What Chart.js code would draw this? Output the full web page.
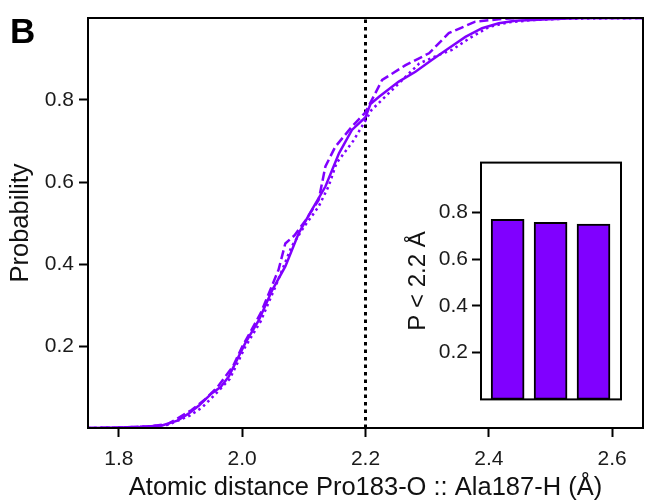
<!DOCTYPE html>
<html>
<head>
<meta charset="utf-8">
<script src="https://cdn.jsdelivr.net/npm/chart.js@4"></script>
<style>
  html, body { margin: 0; padding: 0; background: #fff; }
  #wrap { position: relative; width: 645px; height: 501px; }
  #main { position: absolute; left: 0; top: 0; }
  #inset { position: absolute; left: 400px; top: 146px; }
</style>
</head>
<body>
<div id="wrap">
  <canvas id="main" width="645" height="501"></canvas>
  <canvas id="inset" width="230" height="270"></canvas>
</div>
<script>
// cumulative distributions of the Pro183-O :: Ala187-H distance
const solidX = [1.75, 1.80, 1.84, 1.87, 1.895, 1.913, 1.93, 1.951, 1.965, 1.978, 2.005, 2.027, 2.049, 2.07, 2.092, 2.113, 2.135, 2.157, 2.178, 2.2, 2.208, 2.222, 2.254, 2.281, 2.308, 2.335, 2.362, 2.389, 2.416, 2.443, 2.497, 2.55, 2.65];
const solidY = [0, 0.001, 0.003, 0.006, 0.018, 0.035, 0.055, 0.085, 0.1, 0.125, 0.207, 0.263, 0.337, 0.394, 0.476, 0.532, 0.589, 0.67, 0.727, 0.758, 0.79, 0.808, 0.845, 0.869, 0.898, 0.926, 0.954, 0.975, 0.987, 0.993, 0.997, 1, 1];

const dashX = [1.75, 1.80, 1.85, 1.88, 1.918, 1.94, 1.96, 1.985, 2.0, 2.03, 2.059, 2.07, 2.085, 2.103, 2.124, 2.135, 2.151, 2.178, 2.2, 2.227, 2.265, 2.303, 2.335, 2.378, 2.416, 2.45, 2.65];
const dashY = [0, 0.001, 0.004, 0.01, 0.044, 0.07, 0.1, 0.15, 0.198, 0.28, 0.386, 0.45, 0.47, 0.507, 0.556, 0.638, 0.686, 0.735, 0.77, 0.849, 0.885, 0.914, 0.963, 0.991, 0.997, 1, 1];

const dotX = [1.75, 1.80, 1.85, 1.88, 1.915, 1.935, 1.955, 1.98, 2.005, 2.03, 2.054, 2.08, 2.1, 2.124, 2.14, 2.153, 2.18, 2.2, 2.21, 2.249, 2.287, 2.319, 2.34, 2.368, 2.4, 2.43, 2.47, 2.52, 2.65];
const dotY = [0, 0.001, 0.004, 0.008, 0.03, 0.05, 0.08, 0.12, 0.198, 0.26, 0.345, 0.442, 0.49, 0.54, 0.589, 0.646, 0.7, 0.75, 0.776, 0.833, 0.889, 0.91, 0.922, 0.95, 0.978, 0.989, 0.995, 0.998, 1];

const cutoff = 2.2;
const xTicks = [1.8, 2.0, 2.2, 2.4, 2.6];
const yTicks = [0.2, 0.4, 0.6, 0.8];

// inset: fraction of frames below the cutoff
const insetValues = [0.77, 0.757, 0.75];
const insetTicks = [0.2, 0.4, 0.6, 0.8];

const purple = '#8000ff';
const FONT = '"Liberation Sans", Arial, sans-serif';
Chart.defaults.font.family = FONT;
Chart.defaults.color = '#1a1a1a';

const toPoints = (xs, ys) => xs.map((x, i) => ({ x: x, y: ys[i] }));

const frame = {
  id: 'frame',
  beforeDraw(chart) {
    const { ctx, chartArea: a } = chart;
    ctx.save();
    ctx.fillStyle = '#fff';
    ctx.fillRect(a.left, a.top, a.right - a.left, a.bottom - a.top);
    ctx.restore();
  },
  afterDraw(chart) {
    const { ctx, chartArea: a } = chart;
    ctx.save();
    ctx.strokeStyle = '#000';
    ctx.lineWidth = 2;
    ctx.strokeRect(a.left, a.top, a.right - a.left, a.bottom - a.top);
    if (chart.canvas.id === 'main') {
      ctx.fillStyle = '#000';
      ctx.font = 'bold 35px ' + FONT;
      ctx.textBaseline = 'alphabetic';
      ctx.fillText('B', 10, 43);
    }
    ctx.restore();
  }
};

const tickGrid = {
  drawOnChartArea: false,
  drawTicks: true,
  tickLength: 9,
  tickWidth: 2,
  tickColor: '#000'
};

new Chart(document.getElementById('main'), {
  type: 'line',
  data: {
    datasets: [
      { data: toPoints(solidX, solidY), borderColor: purple, borderWidth: 2.5 },
      { data: toPoints(dashX, dashY), borderColor: purple, borderWidth: 2.5, borderDash: [9, 4] },
      { data: toPoints(dotX, dotY), borderColor: purple, borderWidth: 2.5, borderDash: [2.5, 3.5] },
      { data: [{ x: cutoff, y: 0 }, { x: cutoff, y: 1 }], borderColor: '#000', borderWidth: 3, borderDash: [3.5, 4] }
    ]
  },
  options: {
    responsive: false,
    animation: false,
    layout: { padding: { left: 0, top: 18, right: 2, bottom: 0 } },
    elements: { point: { radius: 0 }, line: { tension: 0, fill: false } },
    plugins: { legend: { display: false }, tooltip: { enabled: false } },
    scales: {
      x: {
        type: 'linear',
        min: 1.75,
        max: 2.65,
        afterBuildTicks: s => { s.ticks = xTicks.map(v => ({ value: v })); },
        afterFit: s => { s.height = 73; },
        grid: tickGrid,
        border: { display: false },
        ticks: { font: { size: 21 }, padding: 10, callback: v => v.toFixed(1) },
        title: { display: true, text: 'Atomic distance Pro183-O :: Ala187-H (Å)', font: { size: 25.5 }, color: '#111', padding: { top: 0, bottom: -2 } }
      },
      y: {
        min: 0,
        max: 1,
        afterBuildTicks: s => { s.ticks = yTicks.map(v => ({ value: v })); },
        afterFit: s => { s.width = 88; },
        grid: tickGrid,
        border: { display: false },
        ticks: { font: { size: 21 }, padding: 5, callback: v => v.toFixed(1) },
        title: { display: true, text: 'Probability', font: { size: 25.5 }, color: '#111', padding: { top: 6, bottom: 0 } }
      }
    }
  },
  plugins: [frame]
});

new Chart(document.getElementById('inset'), {
  type: 'bar',
  data: {
    datasets: [{
      data: insetValues.map((v, i) => ({ x: i, y: v })),
      backgroundColor: purple,
      borderColor: '#000',
      borderWidth: 2,
      borderSkipped: false,
      barThickness: 33
    }]
  },
  options: {
    responsive: false,
    animation: false,
    layout: { padding: { left: 0, top: 16, right: 9, bottom: 16 } },
    plugins: { legend: { display: false }, tooltip: { enabled: false } },
    scales: {
      x: {
        type: 'linear',
        min: -0.62,
        max: 2.64,
        display: false,
        offset: false
      },
      y: {
        min: 0,
        max: 1.013,
        afterBuildTicks: s => { s.ticks = insetTicks.map(v => ({ value: v })); },
        afterFit: s => { s.width = 81; },
        grid: tickGrid,
        border: { display: false },
        ticks: { font: { size: 21 }, padding: 4, callback: v => v.toFixed(1) },
        title: { display: true, text: 'P < 2.2 Å', font: { size: 24 }, color: '#111', padding: { top: 4, bottom: 0 } }
      }
    }
  },
  plugins: [frame]
});
</script>
</body>
</html>
